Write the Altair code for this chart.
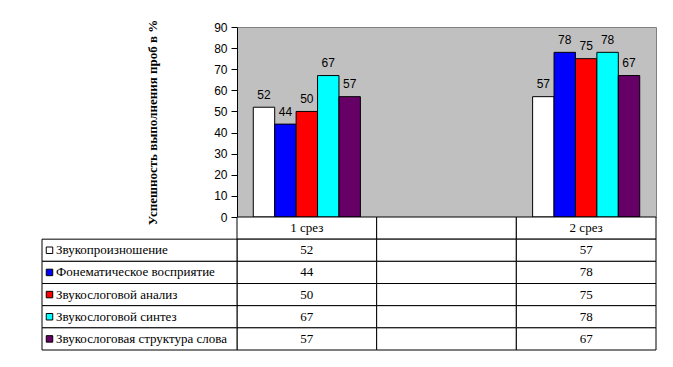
import altair as alt
import pandas as pd

categories = ["1 срез", " ", "2 срез"]
header_labels = ["1 срез", "", "2 срез"]
series = [
    "Звукопроизношение",
    "Фонематическое восприятие",
    "Звукослоговой анализ",
    "Звукослоговой синтез",
    "Звукослоговая структура слова",
]
values_1 = [52, 44, 50, 67, 57]
values_2 = [57, 78, 75, 78, 67]
colors = ["#FFFFFF", "#0000FF", "#FF0000", "#00FFFF", "#660066"]
y_ticks = [0, 10, 20, 30, 40, 50, 60, 70, 80, 90]

bars_df = pd.DataFrame(
    [{"cat": categories[0], "series": s, "value": v} for s, v in zip(series, values_1)]
    + [{"cat": categories[2], "series": s, "value": v} for s, v in zip(series, values_2)]
)

rows = ["hdr"] + series
table_records = []
for c, h in zip(categories, header_labels):
    table_records.append({"row": "hdr", "cat": c, "label": h, "series": None})
for i, s in enumerate(series):
    for j, c in enumerate(categories):
        lab = ""
        if j == 0:
            lab = str(values_1[i])
        elif j == 2:
            lab = str(values_2[i])
        table_records.append({"row": s, "cat": c, "label": lab, "series": s})
table_df = pd.DataFrame(table_records)
names_df = pd.DataFrame({"row": series, "series": series})

W = 419
SERIF = "Liberation Serif"
x_scale = alt.Scale(domain=categories, paddingInner=0, paddingOuter=0)
color_scale = alt.Scale(domain=series, range=colors)

base = alt.Chart(bars_df).encode(
    x=alt.X("cat:N", scale=x_scale, axis=None),
    xOffset=alt.XOffset("series:N", scale=alt.Scale(domain=series, paddingInner=0, paddingOuter=0.76)),
    y=alt.Y(
        "value:Q",
        scale=alt.Scale(domain=[0, 90], nice=False),
        axis=alt.Axis(
            values=y_ticks,
            title="Успешность выполнения проб в %",
            titleFont=SERIF,
            titleFontSize=13,
            titleFontWeight="bold",
            titleColor="black",
            titlePadding=54,
            labelFont="Liberation Sans",
            labelFontSize=12,
            labelColor="black",
            labelPadding=4,
            tickSize=6,
            tickColor="black",
            domainColor="black",
            grid=False,
        ),
    ),
)

bars = base.mark_bar(stroke="black", strokeWidth=1).encode(
    color=alt.Color("series:N", scale=color_scale, legend=None)
)
labels = base.mark_text(
    font="Liberation Sans", fontSize=12, color="black", dy=-8.5, baseline="alphabetic"
).encode(text="value:Q")

top = (bars + labels).properties(
    width=W, height=190, view=alt.ViewBackground(fill="#C0C0C0", stroke="#808080")
)

y_rows = alt.Y("row:N", scale=alt.Scale(domain=rows, paddingInner=0, paddingOuter=0), axis=None)

cells = alt.Chart(table_df).mark_rect(fill="white", stroke="black", strokeWidth=1).encode(
    x=alt.X("cat:N", scale=x_scale, axis=None), y=y_rows
)
name_cells = alt.Chart(names_df).mark_rect(fill="white", stroke="black", strokeWidth=1).encode(
    x=alt.value(-195), x2=alt.value(0), y=y_rows
)
cell_text = alt.Chart(table_df).mark_text(
    font=SERIF, fontSize=13, color="black", baseline="middle"
).encode(x=alt.X("cat:N", scale=x_scale, axis=None), y=y_rows, text="label:N")
name_text = alt.Chart(names_df).mark_text(
    font=SERIF, fontSize=13, color="black", baseline="middle", align="left"
).encode(x=alt.value(-181), y=y_rows, text="series:N")
swatches = alt.Chart(names_df).mark_square(size=42, stroke="black", strokeWidth=1, opacity=1).encode(
    x=alt.value(-187.5), y=y_rows,
    fill=alt.Fill("series:N", scale=color_scale, legend=None),
)

bottom = (cells + name_cells + cell_text + name_text + swatches).properties(
    width=W, height=133, view=alt.ViewBackground(stroke=None)
)

chart = alt.vconcat(top, bottom, spacing=0, bounds="flush").properties(
    padding={"left": 33, "top": 10, "right": 5, "bottom": 5},
    background="white",
)

chart.save("out.html", embed_options={"renderer": "svg", "actions": False})
